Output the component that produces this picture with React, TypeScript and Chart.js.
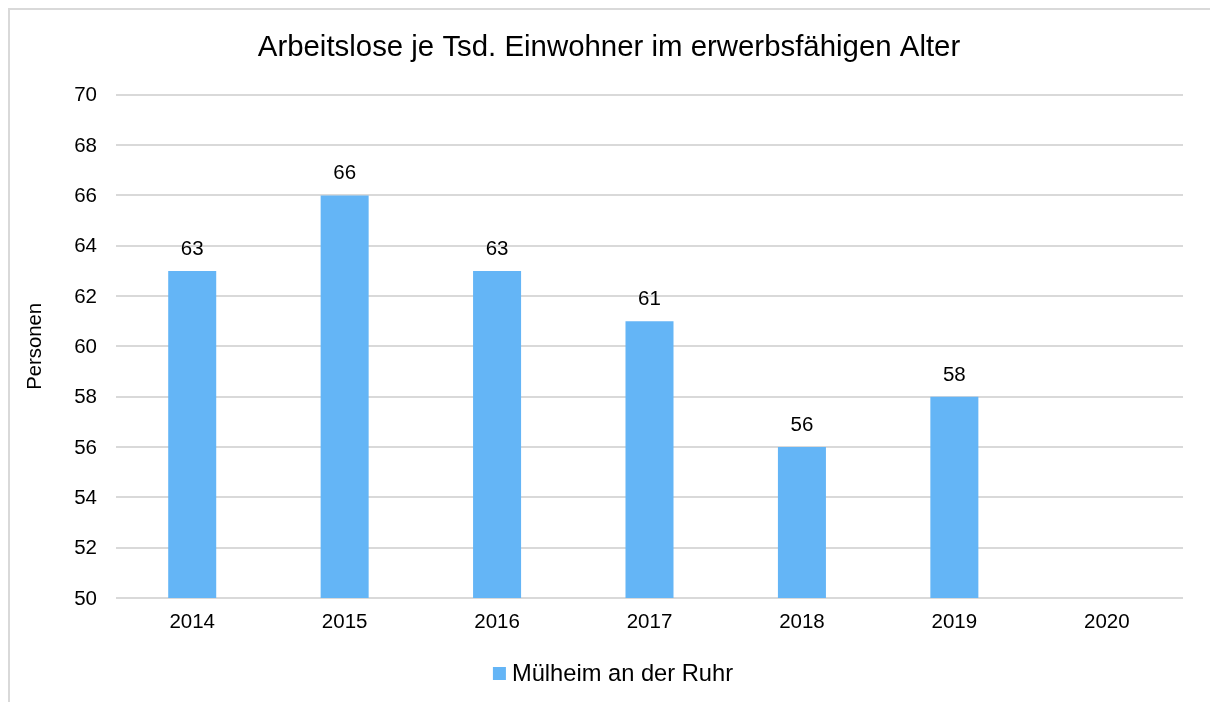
import React, { useEffect, useRef } from "react";
import { Chart, registerables } from "chart.js";

Chart.register(...registerables);

const categories = ["2014", "2015", "2016", "2017", "2018", "2019", "2020"];
const values: (number | null)[] = [63, 66, 63, 61, 56, 58, null];
const seriesName = "Mülheim an der Ruhr";
const titleText = "Arbeitslose je Tsd. Einwohner im erwerbsfähigen Alter";
const yAxisTitle = "Personen";
const yMin = 50;
const yMax = 70;
const yStep = 2;

const FONT = "'Liberation Sans', Arial, Helvetica, sans-serif";
const BAR_COLOR = "#64B5F6";
const GRID_COLOR = "#d9d9d9";
const TEXT_COLOR = "#000000";

const framePlugin = {
  id: "frame",
  beforeDraw(chart: any) {
    const ctx = chart.ctx;
    ctx.save();
    ctx.fillStyle = "#ffffff";
    ctx.fillRect(0, 0, chart.width, chart.height);
    ctx.strokeStyle = GRID_COLOR;
    ctx.lineWidth = 2;
    ctx.strokeRect(9, 9, chart.width + 40, chart.height + 40);
    ctx.restore();
  },
};

const valueLabelPlugin = {
  id: "valueLabels",
  afterDatasetsDraw(chart: any) {
    const ctx = chart.ctx;
    const meta = chart.getDatasetMeta(0);
    const data = chart.data.datasets[0].data;
    ctx.save();
    ctx.font = `20.5px ${FONT}`;
    ctx.fillStyle = TEXT_COLOR;
    ctx.textAlign = "center";
    ctx.textBaseline = "alphabetic";
    meta.data.forEach((bar: any, i: number) => {
      const v = data[i];
      if (v === null || v === undefined) return;
      ctx.fillText(String(v), bar.x, bar.y - 16);
    });
    ctx.restore();
  },
};

const customLegendPlugin = {
  id: "customLegend",
  afterDraw(chart: any) {
    const ctx = chart.ctx;
    const ds = chart.data.datasets[0];
    ctx.save();
    ctx.font = `23.7px ${FONT}`;
    const textW = ctx.measureText(ds.label).width;
    const box = 13;
    const gap = 6;
    const total = box + gap + textW;
    const cx = (chart.width + 16) / 2;
    const cy = 673.5;
    const x0 = cx - total / 2;
    ctx.fillStyle = ds.backgroundColor;
    ctx.fillRect(x0, cy - box / 2, box, box);
    ctx.fillStyle = TEXT_COLOR;
    ctx.textAlign = "left";
    ctx.textBaseline = "middle";
    ctx.fillText(ds.label, x0 + box + gap, cy + 1);
    ctx.restore();
  },
};

export default function App() {
  const canvasRef = useRef<HTMLCanvasElement | null>(null);

  useEffect(() => {
    if (!canvasRef.current) return;
    const chart = new Chart(canvasRef.current, {
      type: "bar",
      data: {
        labels: categories,
        datasets: [
          {
            label: seriesName,
            data: values,
            backgroundColor: BAR_COLOR,
            borderWidth: 0,
            barPercentage: 0.315,
            categoryPercentage: 1,
          },
        ],
      },
      options: {
        responsive: false,
        animation: false,
        devicePixelRatio: 1,
        layout: { padding: { left: 22, right: 14, top: 0, bottom: 54 } },
        plugins: {
          legend: { display: false },
          tooltip: { enabled: false },
          title: {
            display: true,
            text: titleText,
            color: TEXT_COLOR,
            font: { family: FONT, size: 29.4, weight: "normal", lineHeight: 1.2 },
            padding: { top: 30, bottom: 29.5 },
          },
        },
        scales: {
          x: {
            grid: { display: false, drawTicks: false },
            border: { display: false },
            ticks: {
              color: TEXT_COLOR,
              font: { family: FONT, size: 20.5, lineHeight: 1.2 },
              padding: 12,
            },
            afterFit: (s: any) => {
              s.height = 50;
            },
          },
          y: {
            min: yMin,
            max: yMax,
            grid: { color: GRID_COLOR, lineWidth: 2, drawTicks: false },
            border: { display: false },
            ticks: {
              stepSize: yStep,
              color: TEXT_COLOR,
              font: { family: FONT, size: 20.5, lineHeight: 1.2 },
              padding: 19,
              labelOffset: 1,
            },
            title: {
              display: true,
              text: yAxisTitle,
              color: TEXT_COLOR,
              font: { family: FONT, size: 20.3, lineHeight: 1.2 },
              padding: { top: 1, bottom: 0 },
            },
            afterFit: (s: any) => {
              s.width = 94;
            },
          },
          yRight: {
            position: "right",
            display: true,
            grid: { display: false, drawTicks: false },
            border: { display: false },
            ticks: { display: false },
            afterFit: (s: any) => {
              s.width = 13;
            },
          },
        },
      },
      plugins: [framePlugin, valueLabelPlugin, customLegendPlugin],
    } as any);
    return () => chart.destroy();
  }, []);

  return (
    <canvas
      ref={canvasRef}
      width={1210}
      height={702}
      style={{ position: "fixed", left: 0, top: 0, width: 1210, height: 702, display: "block" }}
    />
  );
}
